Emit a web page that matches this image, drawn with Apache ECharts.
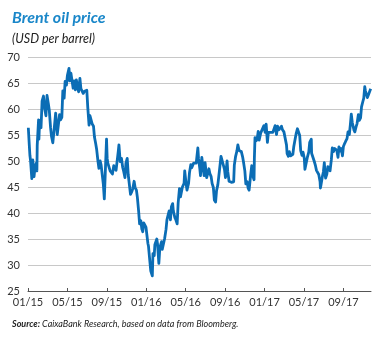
<!DOCTYPE html>
<html>
<head>
<meta charset="utf-8">
<script src="https://cdn.jsdelivr.net/npm/echarts@6/dist/echarts.min.js"></script>
<style>
html,body{margin:0;padding:0;background:#fff;}
#c{width:383px;height:338px;}
</style>
</head>
<body>
<div id="c"></div>
<script>
// ---- Data (Brent, USD per barrel) ----
const dates = [
"2015-01-02","2015-01-05","2015-01-07","2015-01-09","2015-01-13","2015-01-15","2015-01-16","2015-01-20","2015-01-23","2015-01-27","2015-01-29","2015-01-30",
"2015-02-03","2015-02-04","2015-02-06","2015-02-10","2015-02-13","2015-02-17","2015-02-20","2015-02-24","2015-02-27",
"2015-03-03","2015-03-06","2015-03-10","2015-03-13","2015-03-17","2015-03-20","2015-03-24","2015-03-26","2015-03-31",
"2015-04-03","2015-04-07","2015-04-10","2015-04-14","2015-04-17","2015-04-21","2015-04-24","2015-04-28",
"2015-05-01","2015-05-06","2015-05-08","2015-05-12","2015-05-15","2015-05-19","2015-05-22","2015-05-26","2015-05-29",
"2015-06-02","2015-06-05","2015-06-09","2015-06-12","2015-06-16","2015-06-19","2015-06-23","2015-06-26","2015-06-30",
"2015-07-03","2015-07-07","2015-07-10","2015-07-14","2015-07-17","2015-07-21","2015-07-24","2015-07-28","2015-07-31",
"2015-08-04","2015-08-07","2015-08-11","2015-08-14","2015-08-18","2015-08-21","2015-08-24","2015-08-27","2015-08-31",
"2015-09-02","2015-09-04","2015-09-08","2015-09-11","2015-09-15","2015-09-18","2015-09-22","2015-09-25","2015-09-29",
"2015-10-02","2015-10-06","2015-10-08","2015-10-12","2015-10-16","2015-10-20","2015-10-23","2015-10-27","2015-10-30",
"2015-11-03","2015-11-06","2015-11-10","2015-11-13","2015-11-17","2015-11-20","2015-11-24","2015-11-27",
"2015-12-01","2015-12-04","2015-12-08","2015-12-11","2015-12-15","2015-12-18","2015-12-21","2015-12-24","2015-12-31",
"2016-01-04","2016-01-06","2016-01-08","2016-01-12","2016-01-15","2016-01-20","2016-01-22","2016-01-26","2016-01-28",
"2016-02-01","2016-02-03","2016-02-05","2016-02-09","2016-02-11","2016-02-12","2016-02-17","2016-02-19","2016-02-23","2016-02-26",
"2016-03-01","2016-03-04","2016-03-08","2016-03-11","2016-03-15","2016-03-18","2016-03-22","2016-03-24","2016-03-29",
"2016-04-01","2016-04-05","2016-04-08","2016-04-12","2016-04-15","2016-04-18","2016-04-21","2016-04-26","2016-04-28",
"2016-05-02","2016-05-05","2016-05-10","2016-05-13","2016-05-17","2016-05-20","2016-05-24","2016-05-26",
"2016-06-01","2016-06-03","2016-06-08","2016-06-10","2016-06-14","2016-06-16","2016-06-20","2016-06-23","2016-06-27","2016-06-30",
"2016-07-05","2016-07-08","2016-07-12","2016-07-15","2016-07-19","2016-07-22","2016-07-26","2016-07-29",
"2016-08-02","2016-08-05","2016-08-09","2016-08-12","2016-08-16","2016-08-19","2016-08-23","2016-08-26","2016-08-30",
"2016-09-02","2016-09-07","2016-09-09","2016-09-13","2016-09-16","2016-09-20","2016-09-23","2016-09-27","2016-09-29",
"2016-10-03","2016-10-07","2016-10-10","2016-10-14","2016-10-18","2016-10-21","2016-10-25","2016-10-28",
"2016-11-01","2016-11-04","2016-11-08","2016-11-11","2016-11-14","2016-11-18","2016-11-22","2016-11-25","2016-11-29","2016-11-30",
"2016-12-02","2016-12-06","2016-12-09","2016-12-12","2016-12-15","2016-12-20","2016-12-23","2016-12-30",
"2017-01-03","2017-01-06","2017-01-10","2017-01-13","2017-01-17","2017-01-20","2017-01-24","2017-01-27","2017-01-31",
"2017-02-03","2017-02-07","2017-02-10","2017-02-14","2017-02-17","2017-02-21","2017-02-24","2017-02-28",
"2017-03-03","2017-03-08","2017-03-10","2017-03-14","2017-03-17","2017-03-21","2017-03-24","2017-03-28","2017-03-31",
"2017-04-04","2017-04-07","2017-04-11","2017-04-13","2017-04-18","2017-04-21","2017-04-25","2017-04-28",
"2017-05-02","2017-05-04","2017-05-09","2017-05-12","2017-05-16","2017-05-19","2017-05-24","2017-05-25","2017-05-30",
"2017-06-02","2017-06-06","2017-06-09","2017-06-13","2017-06-16","2017-06-20","2017-06-21","2017-06-23","2017-06-27","2017-06-30",
"2017-07-03","2017-07-05","2017-07-07","2017-07-11","2017-07-14","2017-07-18","2017-07-21","2017-07-25","2017-07-28",
"2017-08-01","2017-08-04","2017-08-08","2017-08-11","2017-08-15","2017-08-18","2017-08-22","2017-08-25","2017-08-29",
"2017-09-01","2017-09-05","2017-09-08","2017-09-12","2017-09-15","2017-09-19","2017-09-22","2017-09-25","2017-09-28",
"2017-10-03","2017-10-06","2017-10-10","2017-10-13","2017-10-17","2017-10-20","2017-10-24","2017-10-27","2017-10-31",
"2017-11-03","2017-11-06","2017-11-08","2017-11-10","2017-11-14","2017-11-17","2017-11-21","2017-11-24"
];
const prices = [
56.4,53.1,51.1,50.1,46.6,48.3,50.2,47.0,48.8,49.6,48.1,53.0,
57.9,54.2,57.8,56.4,61.5,62.5,60.2,58.7,62.6,
61.0,59.7,56.4,54.7,53.5,55.3,55.1,59.2,55.1,
55.0,58.9,57.9,58.4,63.5,62.1,65.3,64.6,
66.5,67.8,65.4,66.9,66.8,64.0,65.4,63.7,65.6,
65.5,63.3,65.9,63.9,64.0,63.0,63.4,63.3,63.6,
60.3,56.9,58.7,58.5,57.1,56.7,54.6,53.3,52.2,
50.0,48.6,50.0,49.2,49.0,45.5,42.7,47.6,54.2,
50.5,49.6,49.5,48.1,47.8,47.5,49.1,48.6,48.2,
48.1,51.9,53.1,49.9,50.5,48.7,48.0,46.8,49.6,
50.5,47.4,47.2,43.6,44.1,44.7,46.1,44.9,
44.4,43.0,40.3,37.9,38.5,36.9,36.4,38.1,37.3,
37.2,34.2,33.6,30.9,28.9,27.9,32.2,31.8,33.9,
34.2,35.0,34.1,30.3,30.1,33.4,34.5,33.0,33.3,35.1,
36.8,38.7,39.7,40.4,38.7,41.2,41.8,40.4,39.1,
38.7,37.9,41.9,44.7,43.1,42.9,45.0,45.7,48.1,
45.8,44.4,45.7,47.8,49.3,48.7,48.6,49.6,
49.7,49.6,52.5,50.5,48.5,47.2,50.7,50.9,47.2,49.7,
46.8,46.8,48.5,47.6,47.0,45.7,44.9,42.5,
42.1,44.3,45.4,47.0,49.2,50.9,50.0,49.9,48.4,
46.8,50.0,48.0,46.1,45.8,45.9,45.9,46.0,49.2,
50.9,51.9,53.1,52.0,51.7,51.8,50.8,49.7,
48.1,45.6,46.0,44.8,44.4,46.9,49.1,47.2,46.4,50.5,
54.5,53.9,54.3,55.7,54.0,55.4,55.2,56.8,
55.5,57.1,53.6,55.5,55.5,55.5,55.4,55.5,55.7,
56.8,55.1,56.7,56.0,55.8,56.7,56.0,55.6,
55.9,53.1,51.4,50.9,51.8,51.0,50.8,51.3,52.8,
54.2,55.2,56.2,55.9,54.9,52.0,51.1,51.7,
50.5,48.4,48.7,50.8,51.7,53.6,54.2,51.5,51.8,
50.0,49.1,48.2,48.3,47.4,46.0,44.8,45.5,47.0,47.9,
49.7,47.8,46.7,47.5,48.9,48.8,48.1,50.2,52.5,
51.8,52.4,52.1,52.1,50.7,52.7,51.9,52.4,51.0,
52.8,53.4,53.8,54.3,55.6,55.1,56.9,59.0,57.4,
56.0,55.6,56.6,57.2,58.9,57.8,58.3,60.4,61.4,
62.1,64.3,63.5,63.5,62.2,62.7,62.6,63.9
];
const tickLabels = ["01/15","05/15","09/15","01/16","05/16","09/16","01/17","05/17","09/17"];
const yTicks = { min: 25, max: 70, step: 5 };
const titleText = "Brent oil price";
const subtitleText = "(USD per barrel)";
const sourceBold = "Source:";
const sourceText = " CaixaBank Research, based on data from Bloomberg.";

// month offset from Jan 2015 (fraction of month from day)
function monthPos(s) {
  const [y, m, d] = s.split("-").map(Number);
  const dim = new Date(y, m, 0).getDate();
  return (y - 2015) * 12 + (m - 1) + (d - 1) / dim;
}
const seriesData = dates.map((d, i) => [monthPos(d), prices[i]]);
const xMax = monthPos("2017-11-25");

const FONT = "Lato";
const chart = echarts.init(document.getElementById("c"), null, { renderer: "canvas" });
chart.setOption({
  animation: false,
  backgroundColor: "#fff",
  title: [
    { text: titleText, left: 7, top: 5,
      textStyle: { fontFamily: FONT, fontWeight: "bold", fontStyle: "italic", fontSize: 16, color: "#1a87c9" } },
    { text: subtitleText, left: 7, top: 27,
      textStyle: { fontFamily: FONT, fontWeight: "normal", fontStyle: "italic", fontSize: 12.5, color: "#222" } },
    { text: "{b|" + sourceBold + "}{n|" + sourceText + "}", left: 7, top: 315,
      textStyle: { fontWeight: "normal", rich: {
        b: { fontFamily: FONT, fontWeight: "bold", fontStyle: "italic", fontSize: 9, color: "#222" },
        n: { fontFamily: FONT, fontWeight: "normal", fontStyle: "italic", fontSize: 9, color: "#222" } } } }
  ],
  grid: { left: 28, right: 12, top: 57, bottom: 47, containLabel: false },
  xAxis: {
    type: "value", min: 0, max: xMax, interval: 4,
    axisLine: { show: true, lineStyle: { color: "#555", width: 1 } },
    axisTick: { show: true, inside: true, length: 3, lineStyle: { color: "#555" } },
    splitLine: { show: false },
    axisLabel: {
      showMaxLabel: false, margin: 6,
      fontFamily: FONT, fontSize: 11, color: "#333",
      formatter: v => { const i = Math.round(v / 4); return (Math.abs(v - i * 4) < 1e-6 && tickLabels[i]) ? tickLabels[i] : ""; }
    }
  },
  yAxis: {
    type: "value", min: yTicks.min, max: yTicks.max, interval: yTicks.step,
    axisLine: { show: false }, axisTick: { show: false },
    splitLine: { show: true, lineStyle: { color: "#c8c8c8", width: 1 } },
    axisLabel: { fontFamily: FONT, fontSize: 11, color: "#333", margin: 8 }
  },
  series: [{
    type: "line", data: seriesData, showSymbol: false, symbol: "none",
    lineStyle: { color: "#0b6db5", width: 2.8, join: "round" }
  }]
});
</script>
</body>
</html>
